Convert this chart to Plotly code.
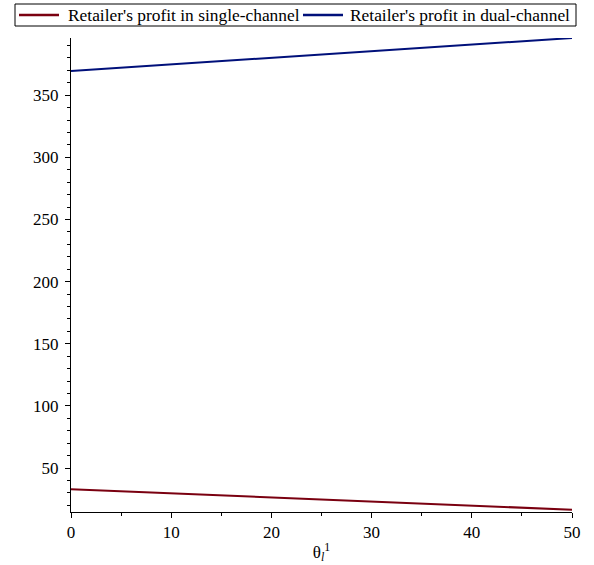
import plotly.graph_objects as go

theta = [0, 10, 20, 30, 40, 50]
single_channel = [33.1, 29.8, 26.5, 23.2, 19.8, 16.5]
dual_channel = [369.5, 374.8, 380.1, 385.4, 390.7, 396.0]

series_names = ["Retailer's profit in single-channel", "Retailer's profit in dual-channel"]
colors = ["#7a0010", "#00107a"]

W, H = 594, 565
ML, MR, MT, MB = 71, 22, 38, 53
PW, PH = W - ML - MR, H - MT - MB


def px_x(px):
    return (px - ML) / PW


def px_y(py):
    return (H - MB - py) / PH


fig = go.Figure()
fig.add_trace(go.Scatter(x=theta, y=single_channel, mode="lines", name=series_names[0],
                         line=dict(color=colors[0], width=2)))
fig.add_trace(go.Scatter(x=theta, y=dual_channel, mode="lines", name=series_names[1],
                         line=dict(color=colors[1], width=2)))

font_family = "Liberation Serif, Times New Roman, serif"

# legend drawn as a framed row of line samples and labels
legend_y = 15
shapes = [dict(type="rect", xref="paper", yref="paper",
               x0=px_x(15), x1=px_x(576), y0=px_y(26), y1=px_y(4),
               line=dict(color="black", width=1), fillcolor="white", layer="above")]
annotations = []
for (lx0, tx), name, col in zip([(19, 66), (303, 348)], series_names, colors):
    shapes.append(dict(type="line", xref="paper", yref="paper",
                       x0=px_x(lx0), x1=px_x(lx0 + 40), y0=px_y(legend_y), y1=px_y(legend_y),
                       line=dict(color=col, width=2.5), layer="above"))
    annotations.append(dict(xref="paper", yref="paper", x=px_x(tx), y=px_y(legend_y),
                            xanchor="left", yanchor="middle", showarrow=False, text=name,
                            font=dict(family=font_family, size=17.4, color="black")))

fig.update_layout(
    width=W, height=H,
    margin=dict(l=ML, r=MR, t=MT, b=MB, autoexpand=False),
    paper_bgcolor="white", plot_bgcolor="white",
    font=dict(family=font_family, size=17, color="black"),
    showlegend=False,
    shapes=shapes, annotations=annotations,
    xaxis=dict(range=[0, 50], showgrid=False, zeroline=False, showline=True,
               linecolor="black", linewidth=1, ticks="outside", ticklen=5,
               tickwidth=1, tickcolor="black", tickvals=[0, 10, 20, 30, 40, 50],
               minor=dict(ticks="outside", ticklen=3, tickcolor="black", dtick=5),
               title=dict(text="θ<sub><i>l</i></sub><sup>1</sup>", standoff=4,
                          font=dict(size=17))),
    yaxis=dict(range=[14.7, 396.0], showgrid=False, zeroline=False, showline=True,
               linecolor="black", linewidth=1, ticks="outside", ticklen=5,
               tickwidth=1, tickcolor="black", ticklabelstandoff=3,
               tickvals=[50, 100, 150, 200, 250, 300, 350],
               minor=dict(ticks="outside", ticklen=3, tickcolor="black",
                          tickvals=[20, 30, 40, 60, 70, 80, 90, 110, 120, 130, 140,
                                    160, 170, 180, 190, 210, 220, 230, 240, 260, 270,
                                    280, 290, 310, 320, 330, 340, 360, 370, 380, 390])),
)

fig.write_html("out.html")
